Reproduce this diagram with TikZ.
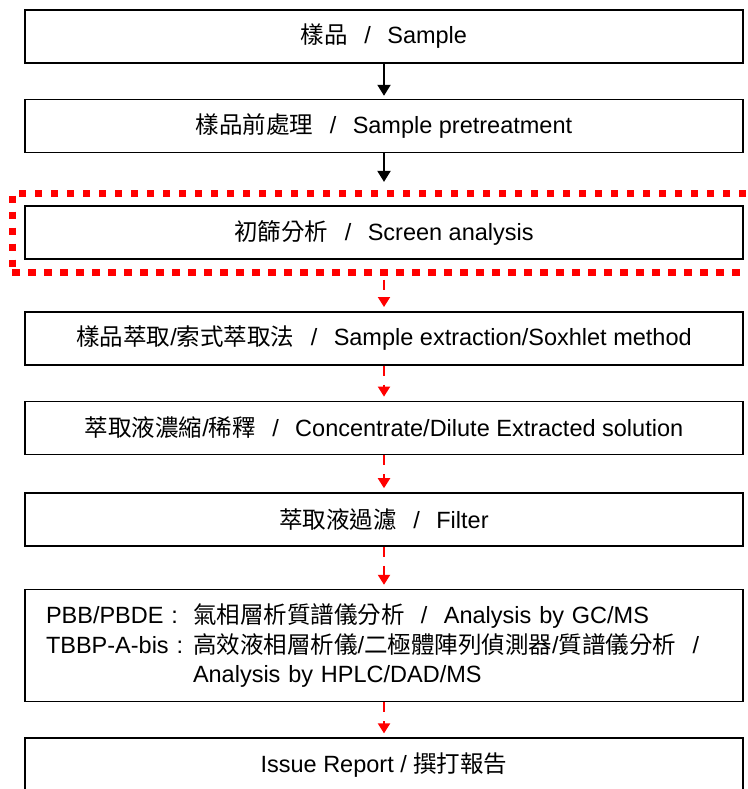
\documentclass[tikz,border=0pt]{standalone}
\usepackage{fontspec}
\setmainfont{Liberation Sans}
\newfontfamily\cjkfont{Noto Sans CJK TC}
\usetikzlibrary{%
  arrows.meta,%
  positioning,% wg. " of "
  fit% wg. Rahmen um Screen
}
\newcommand{\zh}[1]{{\cjkfont #1}}
\newcommand{\slashsep}{\hspace{0.7em}/\hspace{0.7em}}

\begin{document}
\begin{tikzpicture}[
    >={Triangle[width=13pt,length=11pt]},
    stepbox/.style={rectangle,draw,line width=1.6pt,minimum width=718pt,
        minimum height=53pt,inner sep=0pt,font=\fontsize{23.5}{29.5}\selectfont},
    flow/.style={->,line width=2pt,shorten >=3pt},
    redflow/.style={->,red,line width=2pt,dash pattern=on 10pt off 9pt,
        shorten >=4pt,>={Triangle[width=12pt,length=10pt]}},
    screenframe/.style={rectangle,draw=red,line width=7pt,
        dash pattern=on 7.5pt off 8.5pt,inner xsep=12pt,inner ysep=12pt},
    node distance=35pt
  ]
    \useasboundingbox (0,0) rectangle (747pt,-789pt);
    \clip (0,0) rectangle (747pt,-789pt);

    \node (sample)   [stepbox] at (384pt,-36.5pt) {\zh{樣品}\slashsep Sample};
    \node (pretreat) [stepbox,below=of sample] {\zh{樣品前處理}\slashsep Sample pretreatment};
    \node (screen)   [stepbox,below=52pt of pretreat] {\zh{初篩分析}\slashsep Screen analysis};
    \node (frame)    [screenframe,fit=(screen)] {};
    \node (extract)  [stepbox,below=51pt of screen]
        {\zh{樣品萃取}/\zh{索式萃取法}\slashsep Sample extraction/Soxhlet method};
    \node (concen)   [stepbox,below=of extract]
        {\zh{萃取液濃縮}/\zh{稀釋}\slashsep Concentrate/Dilute Extracted solution};
    \node (filter)   [stepbox,below=37pt of concen] {\zh{萃取液過濾}\slashsep Filter};
    \node (analysis) [stepbox,below=42pt of filter,minimum height=112pt,
        text width=676pt,inner xsep=21pt,align=left]
        {\makebox[147pt][l]{PBB/PBDE :}\zh{氣相層析質譜儀分析}\slashsep Analysis by GC/MS\\
         \makebox[147pt][l]{TBBP-A-bis :}\zh{高效液相層析儀}/\zh{二極體陣列偵測器}/\zh{質譜儀分析}\slashsep\\
         \hspace*{147pt}Analysis by HPLC/DAD/MS};
    \node (report)   [stepbox,below=of analysis] {Issue Report / \zh{撰打報告}};

    \draw [flow] (sample) -- (pretreat);
    \draw [flow,shorten >=8pt] (pretreat) -- (frame);
    \draw [redflow,shorten <=4pt] (frame) -- (extract);
    \draw [redflow] (extract) -- (concen);
    \draw [redflow] (concen) -- (filter);
    \draw [redflow] (filter) -- (analysis);
    \draw [redflow] (analysis) -- (report);
\end{tikzpicture}
\end{document}
